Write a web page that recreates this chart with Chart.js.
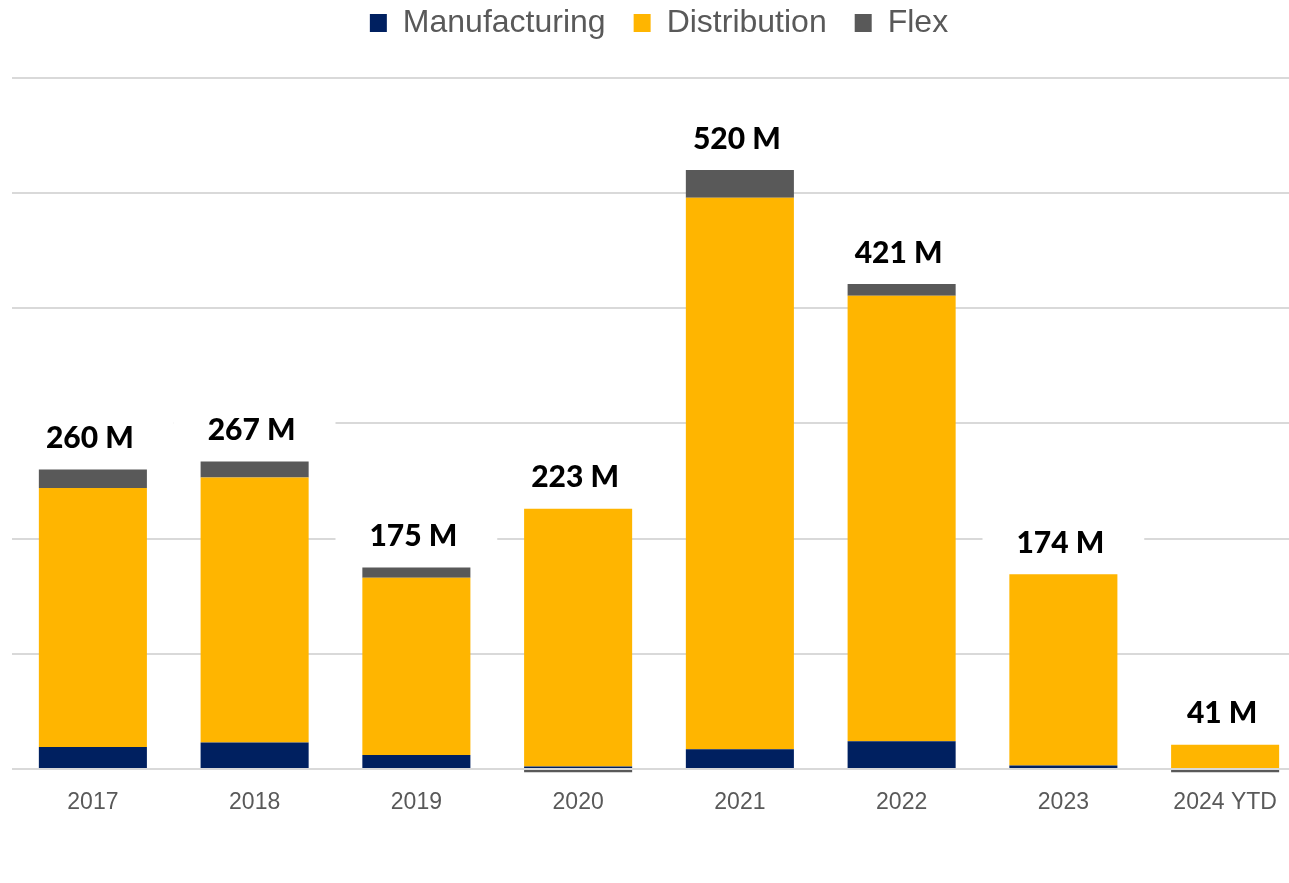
<!DOCTYPE html>
<html>
<head>
<meta charset="utf-8">
<script src="https://cdn.jsdelivr.net/npm/chart.js@4.4.1/dist/chart.umd.min.js"></script>
<style>
  body { margin: 0; background: #fff; overflow: hidden; }
  #wrap { width: 1306px; height: 883px; }
</style>
</head>
<body>
<div id="wrap"><canvas id="chart"></canvas></div>
<script>
// datos (millones)
const years = ['2017', '2018', '2019', '2020', '2021', '2022', '2023', '2024 YTD']
const manufacturing = [19, 23, 12, 2, 17, 24, 3, 0]
const distribution = [225, 230, 154, 224, 479, 387, 166, 21]
const flex = [16, 14, 9, -3, 24, 10, 0, -3]
const totalLabels = ['260 M', '267 M', '175 M', '223 M', '520 M', '421 M', '174 M', '41 M']
const yTicks = [0, 100, 200, 300, 400, 500, 600]

const gridGray = '#d9d9d9'
const textGray = '#595959'

// etiquetas de total encima de cada barra, con fondo blanco que tapa la rejilla
const totalsPlugin = {
    id: 'totals',
    afterDatasetsDraw(chart) {
        const ctx = chart.ctx
        const x = chart.scales.x
        const y = chart.scales.y
        const catW = (x.right - x.left) / years.length
        ctx.save()
        years.forEach((yr, i) => {
            const top = chart.data.datasets.reduce((s, d) => s + Math.max(d.data[i], 0), 0)
            const cx = x.getPixelForValue(i)
            const cy = y.getPixelForValue(top) - 31
            ctx.fillStyle = '#fff'
            ctx.fillRect(cx - catW / 2, cy - 20, catW, 40)
            ctx.fillStyle = '#000'
            ctx.font = '900 30px Lato'
            ctx.textAlign = 'center'
            ctx.textBaseline = 'middle'
            ctx.fillText(totalLabels[i], cx - 3, cy)
        })
        ctx.restore()
    }
}

// altura fija de la leyenda y la subo para compensar el padding horizontal
const legendHeight = {
    id: 'legendHeight',
    beforeInit(chart) {
        const fit = chart.legend.fit
        chart.legend.fit = function () {
            fit.bind(chart.legend)()
            this.height = 78
        }
    },
    afterLayout(chart) {
        chart.legend.top = -21
    }
}

new Chart('chart', {
    type: 'bar',
    data: {
        labels: years,
        datasets: [
            { label: 'Manufacturing', data: manufacturing, backgroundColor: '#002060' },
            { label: 'Distribution', data: distribution, backgroundColor: '#ffb500' },
            { label: 'Flex', data: flex, backgroundColor: '#595959' }
        ]
    },
    options: {
        responsive: true,
        maintainAspectRatio: false,
        animation: false,
        barPercentage: 0.668,
        categoryPercentage: 1,
        layout: { padding: { left: 12, right: 0, top: 0, bottom: 67 } },
        plugins: {
            legend: {
                position: 'top',
                labels: {
                    color: textGray,
                    font: { family: 'Liberation Sans', size: 32 },
                    boxWidth: 17,
                    boxHeight: 18,
                    padding: 28
                }
            },
            tooltip: { enabled: false }
        },
        scales: {
            x: {
                stacked: true,
                grid: { display: false },
                border: { display: false },
                ticks: { color: textGray, font: { family: 'Liberation Sans', size: 23 }, padding: 0 }
            },
            y: {
                stacked: true,
                min: -10,
                max: 600,
                afterBuildTicks: scale => { scale.ticks = yTicks.map(v => ({ value: v })) },
                ticks: { display: false },
                border: { display: false },
                grid: { color: gridGray, lineWidth: 2, drawTicks: false }
            }
        }
    },
    plugins: [totalsPlugin, legendHeight]
})
</script>
</body>
</html>
